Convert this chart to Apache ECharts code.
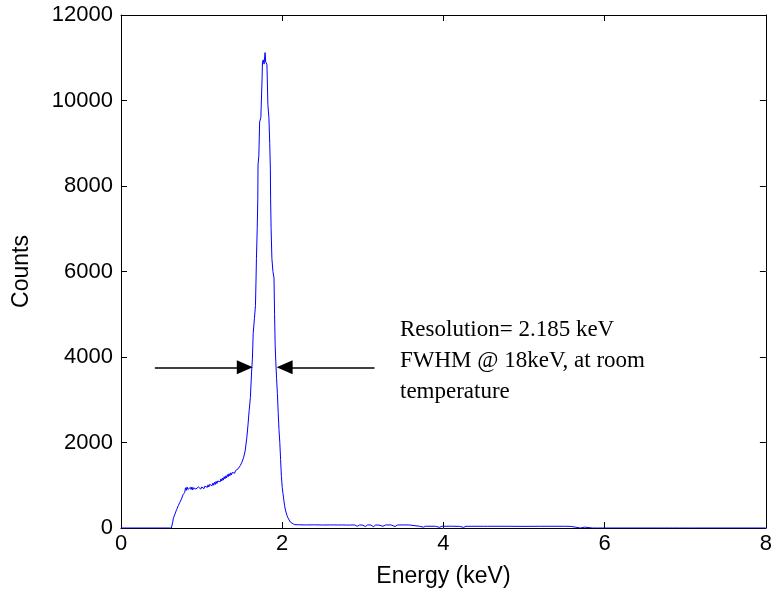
<!doctype html>
<html>
<head>
<meta charset="UTF-8">
<title>Spectrum</title>
<style>
  html, body { margin: 0; padding: 0; background: #fff; }
  #main { width: 775px; height: 594px; }
</style>
</head>
<body>
<div id="main"></div>
<script src="https://cdn.jsdelivr.net/npm/echarts@6/dist/echarts.min.js"></script>
<script>
// spectrum, in three pieces: energy (keV) / counts
// low-energy shoulder
var shoulderEnergy = [0, 0.6, 0.625, 0.64, 0.65, 0.66, 0.67, 0.68, 0.69, 0.7, 0.71, 0.72, 0.73, 0.74, 0.75,
  0.76, 0.77, 0.78, 0.79, 0.8, 0.81, 0.82, 0.83, 0.84, 0.85, 0.86, 0.87, 0.88, 0.89, 0.9, 0.91, 0.92,
  0.93, 0.94, 0.95, 0.96, 0.97, 0.98, 0.99, 1.0, 1.01, 1.02, 1.03, 1.04, 1.05, 1.06, 1.07, 1.08, 1.09,
  1.1, 1.11, 1.12, 1.13, 1.14, 1.15, 1.16, 1.17, 1.18, 1.19, 1.2, 1.21, 1.22, 1.23, 1.24, 1.25, 1.26,
  1.27, 1.28, 1.29, 1.3, 1.31, 1.32, 1.33, 1.34, 1.35, 1.36, 1.37, 1.38, 1.39, 1.4, 1.41, 1.42];
var shoulderCounts = [0, 0, 0, 120, 230, 200, 330, 300, 430, 400, 520, 480, 600, 570, 680,
  650, 780, 740, 830, 940, 880, 960, 900, 940, 880, 950, 900, 960, 890, 940, 900, 970,
  910, 950, 890, 960, 920, 970, 910, 960, 930, 990, 920, 980, 940, 1000, 950, 1010, 960,
  1020, 980, 1040, 990, 1050, 1000, 1070, 1020, 1090, 1040, 1100, 1060, 1130, 1080, 1150, 1100, 1170,
  1120, 1200, 1150, 1220, 1170, 1250, 1200, 1270, 1220, 1290, 1240, 1300, 1260, 1320, 1280, 1340];

// main peak
var peakEnergy = [1.45, 1.48, 1.5, 1.52, 1.54, 1.56, 1.575, 1.59, 1.605, 1.62, 1.63, 1.64, 1.655, 1.668,
  1.675, 1.68, 1.69, 1.697, 1.7, 1.71, 1.72, 1.735, 1.745, 1.75, 1.755, 1.765, 1.775, 1.787, 1.795,
  1.81, 1.815, 1.822, 1.835, 1.845, 1.853, 1.856, 1.862, 1.872, 1.885, 1.898, 1.905, 1.912, 1.92,
  1.93, 1.94, 1.95, 1.96, 1.97, 1.98, 1.99, 2.0, 2.01, 2.02, 2.03, 2.04, 2.05, 2.06, 2.07, 2.08, 2.1,
  2.12, 2.15];
var peakCounts = [1380, 1460, 1540, 1640, 1800, 2100, 2400, 2750, 3050, 3650, 3950, 4550, 4900, 5200,
  5800, 6300, 7000, 7700, 8500, 8700, 9500, 9600, 10200, 10500, 10900, 10950, 10850, 11120, 10900,
  10850, 10500, 9900, 9600, 9000, 8400, 7700, 7000, 6300, 6000, 5850, 5000, 4300, 3900,
  3500, 3150, 2700, 2300, 2000, 1600, 1200, 950, 800, 650, 520, 420, 350, 290, 240, 200, 140,
  100, 80];

// flat tail with dropouts
var tailEnergy = [2.2, 2.3, 2.4, 2.5, 2.6, 2.62, 2.64, 2.7, 2.72, 2.75, 2.8, 2.82, 2.85, 2.9, 2.93, 2.96,
  3.0, 3.03, 3.06, 3.1, 3.13, 3.16, 3.2, 3.25, 3.28, 3.35, 3.4, 3.43, 3.5, 3.58, 3.6, 3.7, 3.75, 3.78,
  3.9, 3.95, 3.98, 4.1, 4.2, 4.25, 4.28, 4.5, 4.52, 4.55, 4.8, 5.0, 5.2, 5.21, 5.22, 5.5, 5.58, 5.6,
  5.7, 5.75, 5.77, 5.85, 5.87, 5.9, 6.5, 6.51, 6.52, 6.7, 6.72, 6.74, 6.8, 6.82, 6.84, 6.92, 6.93,
  6.95, 7.05, 7.07, 7.09, 7.1, 7.12, 8.0];
var tailCounts = [75, 72, 74, 70, 72, 40, 72, 70, 35, 72, 68, 30, 70, 72, 40, 70,
  68, 35, 72, 70, 30, 70, 68, 40, 70, 72, 35, 70, 72, 70, 40, 42, 20, 42,
  40, 15, 40, 42, 38, 15, 40, 40, 20, 40, 40, 38, 40, 15, 40, 40, 38, 5,
  0, 20, 0, 0, 15, 0, 0, 30, 0, 0, 25, 0, 0, 30, 0, 0, 20,
  0, 0, 30, 0, 25, 0, 0];

var xTicks = [0, 2, 4, 6, 8];
var yTicks = [0, 2000, 4000, 6000, 8000, 10000, 12000];

// FWHM arrows, [x, y] in data units
var arrowLeft = [[0.42, 3760], [1.536, 3760]];
var arrowRight = [[3.145, 3760], [2.03, 3760]];
var noteLines = ['Resolution= 2.185 keV', 'FWHM @ 18keV, at room', 'temperature'];

var energy = shoulderEnergy.concat(peakEnergy, tailEnergy);
var counts = shoulderCounts.concat(peakCounts, tailCounts);
var spectrum = energy.map(function (e, i) { return [e, counts[i]]; });

var axisFont = 'Liberation Sans, Arial, Helvetica, sans-serif';
var lineStyle = { color: '#000', width: 1 };

function boxAxis(pos, ticks) {
  return {
    type: 'value', position: pos, min: ticks[0], max: ticks[ticks.length - 1], interval: ticks[1] - ticks[0],
    axisLine: { show: true, onZero: false, lineStyle: lineStyle },
    axisTick: { show: true, inside: true, length: 6, lineStyle: lineStyle },
    axisLabel: { show: false },
    splitLine: { show: false }
  };
}

var chart = echarts.init(document.getElementById('main'));
chart.setOption({
  animation: false,
  backgroundColor: '#fff',
  grid: { left: 121, right: 8, top: 15, bottom: 66 },
  xAxis: [{
    type: 'value', position: 'bottom', min: xTicks[0], max: xTicks[xTicks.length - 1], interval: xTicks[1] - xTicks[0],
    name: 'Energy (keV)', nameLocation: 'middle', nameGap: 37,
    nameTextStyle: { fontFamily: axisFont, fontSize: 23, color: '#000' },
    axisLine: { show: true, onZero: false, lineStyle: lineStyle },
    axisTick: { show: true, inside: true, length: 6, lineStyle: lineStyle },
    axisLabel: { color: '#000', fontFamily: axisFont, fontSize: 22, margin: 5 },
    splitLine: { show: false }
  }, boxAxis('top', xTicks)],
  yAxis: [{
    type: 'value', position: 'left', min: yTicks[0], max: yTicks[yTicks.length - 1], interval: yTicks[1] - yTicks[0],
    name: 'Counts', nameLocation: 'middle', nameGap: 88, nameRotate: 90,
    nameTextStyle: { fontFamily: axisFont, fontSize: 23, color: '#000' },
    axisLine: { show: true, onZero: false, lineStyle: lineStyle },
    axisTick: { show: true, inside: true, length: 6, lineStyle: lineStyle },
    axisLabel: {
      color: '#000', fontFamily: axisFont, fontSize: 22, margin: 8,
      formatter: function (v) { return String(v); }
    },
    splitLine: { show: false }
  }, boxAxis('right', yTicks)],
  series: [{
    type: 'line',
    data: spectrum,
    showSymbol: false,
    lineStyle: { color: '#0000ff', width: 1 },
    markLine: {
      silent: true,
      symbol: ['none', 'triangle'],
      symbolSize: [14, 16],
      label: { show: false },
      lineStyle: { color: '#000', width: 1.5, type: 'solid' },
      data: [
        [{ coord: arrowLeft[0] }, { coord: arrowLeft[1] }],
        [{ coord: arrowRight[0] }, { coord: arrowRight[1] }]
      ]
    }
  }],
  graphic: [{
    type: 'text', left: 400, top: 314,
    style: {
      text: noteLines.join('\n'),
      font: '23px "Liberation Serif", "Times New Roman", serif',
      lineHeight: 31,
      fill: '#000'
    }
  }]
});
</script>
</body>
</html>
